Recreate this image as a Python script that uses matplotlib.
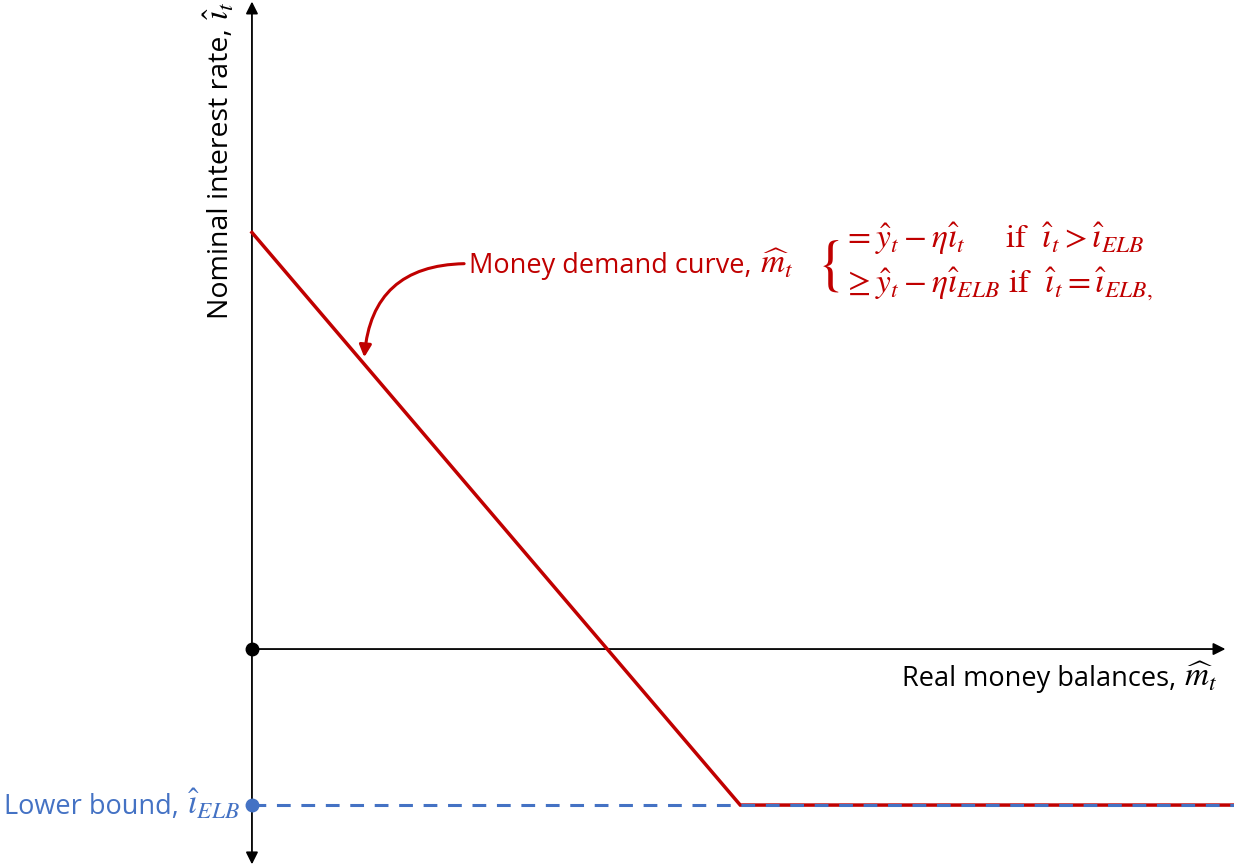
import matplotlib
matplotlib.use("Agg")
import matplotlib.pyplot as plt
from matplotlib.transforms import offset_copy

# ---- data (model units) ----
i_elb = -1.0
demand_m = [0.0, 3.13, 6.3]
demand_i = [2.67, -1.0, -1.0]
elb_m = [0.0, 6.3]
elb_i = [i_elb, i_elb]

RED = "#C00000"
BLUE = "#4472C4"

plt.rcParams['font.family'] = ['Open Sans', 'DejaVu Sans']
plt.rcParams['mathtext.fontset'] = 'stix'

fig = plt.figure(figsize=(12.34, 8.67), dpi=100)
ax = fig.add_axes([0, 0, 1, 1])
ax.set_xlim(-1.615, 6.295)
ax.set_ylim(-1.397, 4.16)
ax.axis('off')
renderer = fig.canvas.get_renderer()

# axes arrows
ax.annotate('', xy=(0, 4.15), xytext=(0, -1.38),
            arrowprops=dict(arrowstyle='<|-|>', color='black', lw=1.3,
                            mutation_scale=18, shrinkA=0, shrinkB=0))
ax.annotate('', xy=(6.24, 0), xytext=(0, 0),
            arrowprops=dict(arrowstyle='-|>', color='black', lw=1.3,
                            mutation_scale=18, shrinkA=0, shrinkB=0))

# money demand
ax.plot(demand_m, demand_i, color=RED, lw=2.5, zorder=3, solid_joinstyle='miter')
# lower bound dashed line (drawn on top)
ax.plot(elb_m, elb_i, color=BLUE, lw=2.2, ls=(0, (4.5, 3.5)), zorder=4)

# dots
ax.plot([0], [0], 'o', color='black', ms=9, zorder=5)
ax.plot([0], [i_elb], 'o', color=BLUE, ms=9, zorder=5)

FS = 19.5
MFS = 24


def label_left(x, y, txt, math, color):
    """Text starting at x (data), followed by bigger math."""
    t = ax.text(x, y, txt, ha='left', va='baseline', fontsize=FS, color=color)
    bb = t.get_window_extent(renderer)
    tr = offset_copy(ax.transData, fig=fig, x=bb.width * 72 / fig.dpi + 1, y=0, units='points')
    ax.text(x, y, math, ha='left', va='baseline', fontsize=MFS, color=color, transform=tr)


def label_right(x, y, txt, math, color):
    """Math ending at x (data), preceded by text."""
    m = ax.text(x, y, math, ha='right', va='baseline', fontsize=MFS, color=color)
    bb = m.get_window_extent(renderer)
    tr = offset_copy(ax.transData, fig=fig, x=-(bb.width * 72 / fig.dpi + 1), y=0, units='points')
    ax.text(x, y, txt, ha='right', va='baseline', fontsize=FS, color=color, transform=tr)


# y label (rotated)
yl = ax.text(-0.2, 4.16 - 0.005, r'$\hat{\imath}_t$', rotation=90, ha='center', va='top',
             fontsize=MFS, color='black')
bb = yl.get_window_extent(renderer)
tr = offset_copy(ax.transData, fig=fig, x=0, y=-(bb.height * 72 / fig.dpi + 1), units='points')
ax.text(-0.2, 4.16 - 0.005, 'Nominal interest rate, ', rotation=90, ha='center', va='top',
        fontsize=20.5, color='black', transform=tr)

label_right(6.19, -0.24, 'Real money balances, ', r'$\widehat{m}_t$', 'black')
label_right(-0.08, i_elb - 0.06, 'Lower bound, ', r'$\hat{\imath}_{ELB}$', BLUE)
label_left(1.39, 2.41, 'Money demand curve, ', r'$\widehat{m}_t$', RED)

ax.text(3.62, 2.45, '{', ha='left', va='center', fontsize=44, color=RED,
        family='STIXGeneral')
ax.text(3.79, 2.63, r'$=\hat{y}_t-\eta\hat{\imath}_t\quad\ \ \mathrm{if}\ \ \hat{\imath}_t>\hat{\imath}_{ELB}$',
        ha='left', va='center', fontsize=24, color=RED)
ax.text(3.79, 2.34, r'$\geq\hat{y}_t-\eta\hat{\imath}_{ELB}\ \mathrm{if}\ \ \hat{\imath}_t=\hat{\imath}_{ELB,}$',
        ha='left', va='center', fontsize=24, color=RED)

ax.annotate('', xy=(0.72, 1.87), xytext=(1.36, 2.47),
            arrowprops=dict(arrowstyle='-|>', color=RED, lw=2.2, mutation_scale=18,
                            shrinkA=0, shrinkB=0,
                            connectionstyle='arc3,rad=0.45'))

fig.savefig('out.png', dpi=100)
